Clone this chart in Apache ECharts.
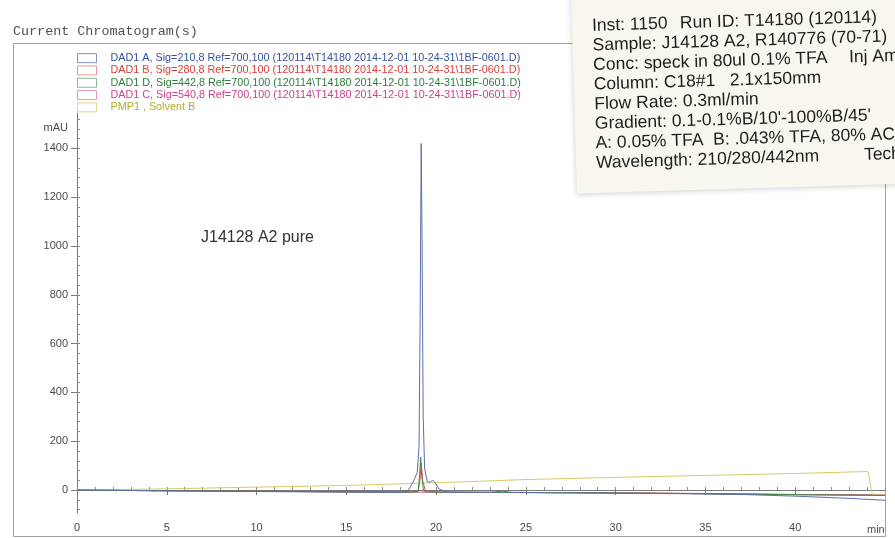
<!DOCTYPE html>
<html>
<head>
<meta charset="utf-8">
<script src="https://cdn.jsdelivr.net/npm/echarts@6/dist/echarts.min.js"></script>
<style>
  html, body { margin: 0; padding: 0; background: #ffffff; }
  #chart { width: 895px; height: 538px; }
</style>
</head>
<body>
<div id="chart"></div>
<script>
// ---- HPLC run T14180, sample J14128 A2: traces (time in min, signal in mAU) ----

// DAD1 A, 210 nm
const timeA = [0, 2, 4, 4.3, 4.6, 8, 12, 16, 18.0, 18.4, 18.7, 18.95, 19.05, 19.11, 19.17, 19.22, 19.28, 19.36, 19.5, 19.68, 19.8, 19.95, 20.15, 20.6, 23, 23.7, 24.2, 26, 30, 34, 37, 40, 43, 45];
const mauA  = [0, -1, -2, -4, -2, -5, -7, -9, -10, -6, 30, 72, 180, 700, 1420, 1000, 300, 90, 35, 32, 41, 30, 5, -9, -10, -4, -10, -11, -13, -15, -18, -25, -34, -42];

// DAD1 B, 280 nm
const timeB = [0, 5, 10, 15, 18.6, 19.0, 19.1, 19.17, 19.25, 19.4, 20.0, 25, 30, 35, 40, 45];
const mauB  = [0, -3, -5, -7, -8, -4, 40, 110, 40, -2, -8, -10, -11, -14, -18, -21];

// DAD1 D, 442 nm
const timeD = [0, 5, 10, 15, 18.8, 19.0, 19.08, 19.14, 19.2, 19.3, 19.5, 25, 30, 35, 40, 45];
const mauD  = [0, -3, -5, -7, -8, -6, 60, 135, 60, -4, -8, -10, -12, -15, -19, -22];

// DAD1 C, 540 nm
const timeC = [0, 5, 10, 15, 20, 25, 30, 35, 40, 45];
const mauC  = [0, -3, -5, -7, -9, -10, -12, -15, -19, -20];

// PMP1, Solvent B
const timeP = [0, 5, 10, 15, 20, 22, 25, 30, 35, 40, 44.05, 44.3, 45];
const mauP  = [0, 5, 12, 19, 30, 35, 43, 52, 60, 68, 76, -20, -20];

// axis tick labels
const xTickLabels = [0, 5, 10, 15, 20, 25, 30, 35, 40];
const yTickLabels = [0, 200, 400, 600, 800, 1000, 1200, 1400];

const traceNames = [
  'DAD1 A, Sig=210,8 Ref=700,100 (120114\\T14180 2014-12-01 10-24-31\\1BF-0601.D)',
  'DAD1 B, Sig=280,8 Ref=700,100 (120114\\T14180 2014-12-01 10-24-31\\1BF-0601.D)',
  'DAD1 D, Sig=442,8 Ref=700,100 (120114\\T14180 2014-12-01 10-24-31\\1BF-0601.D)',
  'DAD1 C, Sig=540,8 Ref=700,100 (120114\\T14180 2014-12-01 10-24-31\\1BF-0601.D)',
  'PMP1 , Solvent B'
];

// run sheet taped over the top-right corner: [text, x offset along the line]
const noteLines = [
  [['Inst: 1150', 0], ['Run ID: T14180 (120114)', 88]],
  [['Sample: J14128 A2, R140776 (70-71)', 0]],
  [['Conc: speck in 80ul 0.1% TFA', 0], ['Inj Amt', 256]],
  [['Column: C18#1   2.1x150mm', 0]],
  [['Flow Rate: 0.3ml/min', 0]],
  [['Gradient: 0.1-0.1%B/10\'-100%B/45\'', 0]],
  [['A: 0.05% TFA  B: .043% TFA, 80% ACN', 0]],
  [['Wavelength: 210/280/442nm', 0], ['Tech', 268]]
];

// ---- styling ----
const lineColors  = ['#5a6eab', '#d0504a', '#3c8a45', '#c85a90', '#d2cc66'];
const textColors  = ['#33519c', '#d63f3a', '#2f7d3c', '#c9438c', '#b2ad2a'];
const boxColors   = ['#7f93c8', '#e39a96', '#86b98c', '#e49ac0', '#dcd890'];

const pairs = (t, v) => t.map((x, i) => [x, v[i]]);
const traces = [
  { name: traceNames[1], data: pairs(timeB, mauB), color: lineColors[1] },
  { name: traceNames[3], data: pairs(timeC, mauC), color: lineColors[3] },
  { name: traceNames[4], data: pairs(timeP, mauP), color: lineColors[4] },
  { name: traceNames[2], data: pairs(timeD, mauD), color: lineColors[2] },
  { name: traceNames[0], data: pairs(timeA, mauA), color: lineColors[0] }
];

const yMinor = [];
for (let v = -80; v <= 1520; v += 40) yMinor.push(v);

const chart = echarts.init(document.getElementById('chart'), null, { renderer: 'canvas' });

const axisGray = '#7a7a7a';
const sans = 'Liberation Sans, Arial, sans-serif';
const labelFont = { fontFamily: sans, fontSize: 11, color: '#4a4a4a' };

const noteTexts = [];
noteLines.forEach((parts, i) => {
  parts.forEach(p => noteTexts.push({
    type: 'text',
    x: p[1], y: i * 19.6,
    style: { text: p[0], verticalAlign: 'middle', fontFamily: sans, fontSize: 17.5, fill: '#1e1e1e' }
  }));
});

chart.setOption({
  backgroundColor: '#ffffff',
  animation: false,
  grid: { left: 77, right: 10, top: 113, bottom: 25, containLabel: false },
  legend: {
    orient: 'vertical',
    left: 77, top: 52,
    padding: 0,
    itemWidth: 19, itemHeight: 9,
    itemGap: 0,
    icon: 'rect',
    selectedMode: false,
    textStyle: { fontFamily: sans, fontSize: 10.8, lineHeight: 12.3, padding: [0, 0, 0, 9] },
    data: traceNames.map((n, i) => ({
      name: n,
      itemStyle: { color: '#ffffff', borderColor: boxColors[i], borderWidth: 1 },
      textStyle: { color: textColors[i] }
    }))
  },
  xAxis: [
    {
      type: 'value', min: 0, max: 45, interval: 5,
      axisLine: { lineStyle: { color: axisGray } },
      axisTick: { length: 5, lineStyle: { color: axisGray }, customValues: xTickLabels },
      axisLabel: Object.assign({ margin: 9, customValues: xTickLabels, formatter: v => String(v) }, labelFont),
      splitLine: { show: false }
    },
    {
      type: 'value', min: 0, max: 45, interval: 1, position: 'bottom',
      axisLine: { show: false },
      axisTick: { inside: true, length: 3, lineStyle: { color: '#8a8a8a' } },
      axisLabel: { show: false },
      splitLine: { show: false }
    }
  ],
  yAxis: [
    {
      type: 'value', min: -94, max: 1545,
      axisLine: { show: true, lineStyle: { color: axisGray } },
      axisTick: { show: true, length: 6, lineStyle: { color: axisGray }, customValues: yTickLabels },
      axisLabel: Object.assign({ margin: 9, customValues: yTickLabels, formatter: v => String(v) }, labelFont),
      splitLine: { show: false }
    },
    {
      type: 'value', min: -94, max: 1545, position: 'left',
      axisLine: { show: false },
      axisTick: { show: true, inside: true, length: 3, lineStyle: { color: '#8a8a8a' }, customValues: yMinor },
      axisLabel: { show: false },
      splitLine: { show: false }
    }
  ],
  series: traces.map(t => ({
    name: t.name,
    type: 'line',
    xAxisIndex: 0, yAxisIndex: 0,
    data: t.data,
    showSymbol: false,
    symbol: 'none',
    color: t.color,
    lineStyle: { width: 1, color: t.color },
    silent: true
  })),
  graphic: [
    {
      type: 'rect', silent: true, z: -10,
      shape: { x: 13.5, y: 43.5, width: 872, height: 493 },
      style: { fill: null, stroke: '#a0a0a0', lineWidth: 1 }
    },
    {
      type: 'text', silent: true, left: 13, top: 25,
      style: { text: 'Current Chromatogram(s)', fontFamily: 'Liberation Mono, Courier New, monospace', fontSize: 13.4, fill: '#505050' }
    },
    {
      type: 'text', silent: true, x: 68, y: 128,
      style: { text: 'mAU', align: 'right', verticalAlign: 'middle', fontFamily: sans, fontSize: 11, fill: '#4a4a4a' }
    },
    {
      type: 'text', silent: true, x: 201, y: 238,
      style: { text: 'J14128 A2 pure', verticalAlign: 'middle', fontFamily: sans, fontSize: 16, fill: '#333333' }
    },
    {
      type: 'text', silent: true, x: 867, y: 530,
      style: { text: 'min', verticalAlign: 'middle', fontFamily: sans, fontSize: 11, fill: '#4a4a4a' }
    },
    {
      type: 'group', silent: true, x: 592, y: 26, rotation: 0.03, z: 100,
      children: [
        {
          type: 'rect',
          shape: { x: -20, y: -45, width: 345, height: 212 },
          style: { fill: '#f9f6ef', shadowBlur: 5, shadowColor: 'rgba(0,0,0,0.15)', shadowOffsetX: -1, shadowOffsetY: 2 }
        }
      ].concat(noteTexts)
    }
  ]
});
</script>
</body>
</html>
